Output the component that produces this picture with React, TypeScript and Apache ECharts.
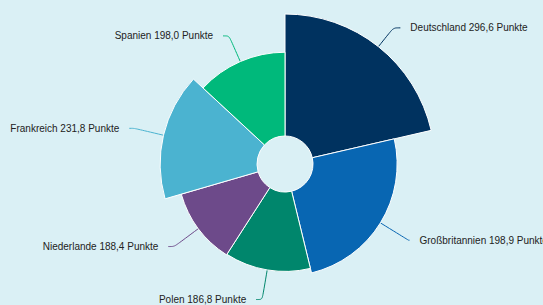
import React, { useEffect, useRef } from "react";
import * as echarts from "echarts";

const countries = ["Deutschland", "Großbritannien", "Polen", "Niederlande", "Frankreich", "Spanien"];
const points = [296.6, 198.9, 186.8, 188.4, 231.8, 198.0];
// angular share of each slice (percent of the full circle)
const angleShares = [21.4, 24.8, 12.9, 11.4, 16.4, 13.1];
const colors = ["#00325f", "#0866b2", "#00866c", "#6d4a8a", "#4bb3d0", "#00b97b"];
// label connector styling per slice: [first segment, second segment]
const connectorLengths: [number, number][] = [
  [24, 7],
  [33, 1],
  [30, 6],
  [30, 6],
  [30, 5],
  [28, 6],
];

const fmt = (v: number) => v.toFixed(1).replace(".", ",");

export default function App() {
  const ref = useRef<HTMLDivElement>(null);
  useEffect(() => {
    document.body.style.margin = "0";
    const chart = echarts.init(ref.current!, null, { renderer: "svg" });
    const total = angleShares.reduce((a, b) => a + b, 0);
    const maxV = Math.max(...points);
    const innerR = 28;
    let cum = 0;
    const series = countries.map((name, i) => {
      const start = 90 - (cum / total) * 360;
      cum += angleShares[i];
      const outer = 35 + (points[i] / maxV) * 115;
      return {
        type: "pie",
        center: [285, 164],
        radius: [innerR, outer],
        startAngle: start,
        clockwise: true,
        silent: true,
        minAngle: 0,
        avoidLabelOverlap: false,
        label: {
          show: true,
          position: "outside",
          formatter: () => `${name} ${fmt(points[i])} Punkte`,
          color: "#222",
          fontSize: 10,
          fontFamily: "Liberation Sans, Arial, sans-serif",
          padding: [0, 5, 0, 5],
          width: 300,
          overflow: "none",
        },
        labelLine: {
          show: true,
          length: connectorLengths[i][0],
          length2: connectorLengths[i][1],
          smooth: 0.3,
          lineStyle: { width: 1 },
        },
        data: [
          {
            name,
            value: angleShares[i],
            itemStyle: { color: colors[i], borderColor: "#ffffff", borderWidth: 1 },
          },
          {
            name: "rest",
            value: total - angleShares[i],
            itemStyle: { color: "rgba(0,0,0,0)", borderWidth: 0 },
            label: { show: false },
            labelLine: { show: false },
          },
        ],
      };
    });
    chart.setOption({
      animation: false,
      backgroundColor: "#daf0f5",
      series,
    });
    return () => chart.dispose();
  }, []);
  return <div ref={ref} style={{ width: 543, height: 305 }} />;
}
